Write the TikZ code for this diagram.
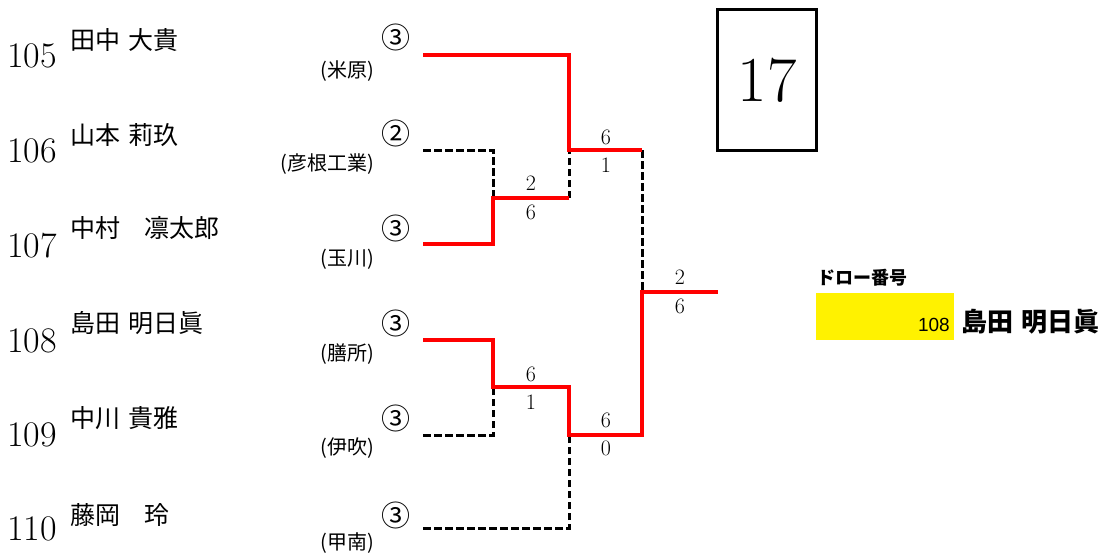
\documentclass[tikz,border=0pt]{standalone}
\usepackage{fontspec}
\newfontfamily\jp{Noto Sans CJK JP}
\newfontfamily\sansf{Liberation Sans}
\begin{document}
\begin{tikzpicture}[x=1pt,y=-1pt,
  win/.style={red, line width=4pt, line join=miter},
  lose/.style={black, line width=3pt, dash pattern=on 7.5pt off 3.5pt},
  seed/.style={anchor=base west, inner sep=0, font=\fontsize{36}{36}\selectfont},
  pname/.style={anchor=west, inner sep=0, font=\jp\fontsize{25}{25}\selectfont},
  club/.style={anchor=east, inner sep=0, font=\jp\fontsize{20}{20}\selectfont},
  circ/.style={inner sep=0, font=\jp\fontsize{29}{29}\selectfont},
  score/.style={inner sep=0, font=\fontsize{22}{22}\selectfont}]
\useasboundingbox (0,0) rectangle (1104,557);

% seeds and names
\node[seed] (s1) at (7,67) {105};
\node[seed] (s2) at (7,162) {106};
\node[seed] (s3) at (7,257) {107};
\node[seed] (s4) at (7,352) {108};
\node[seed] (s5) at (7,446) {109};
\node[seed] (s6) at (7,540) {110};
\node[pname] (n1) at (70,40) {田中\hspace{8pt}大貴};
\node[pname] (n2) at (70,135) {山本\hspace{8pt}莉玖};
\node[pname] (n3) at (70,228) {中村\hspace{24pt}凛太郎};
\node[pname] (n4) at (70,323) {島田\hspace{8pt}明日眞};
\node[pname] (n5) at (70,418) {中川\hspace{8pt}貴雅};
\node[pname] (n6) at (70,515) {藤岡\hspace{24pt}玲};
\node[club] (c1) at (374,71) {(米原)};
\node[club] (c2) at (374,164) {(彦根工業)};
\node[club] (c3) at (374,259) {(玉川)};
\node[club] (c4) at (374,354) {(膳所)};
\node[club] (c5) at (374,448) {(伊吹)};
\node[club] (c6) at (374,543) {(甲南)};
\node[circ] (g1) at (396,37) {③};
\node[circ] (g2) at (396,133) {②};
\node[circ] (g3) at (396,228) {③};
\node[circ] (g4) at (396,323) {③};
\node[circ] (g5) at (396,418) {③};
\node[circ] (g6) at (396,515) {③};

% bracket coordinates
\coordinate (p1) at (423,55);
\coordinate (p2) at (423,150);
\coordinate (p3) at (423,244);
\coordinate (p4) at (423,340);
\coordinate (p5) at (423,435);
\coordinate (p6) at (423,528);
\coordinate (a1) at (569,55);
\coordinate (j1) at (569,150);
\coordinate (f1) at (642,150);
\coordinate (a2) at (493,150);
\coordinate (a3) at (493,244);
\coordinate (j23) at (493,198);
\coordinate (k23) at (569,198);
\coordinate (fm) at (642,292);
\coordinate (fe) at (718,292);
\coordinate (f2) at (642,435);
\coordinate (a4) at (493,340);
\coordinate (j45) at (493,387);
\coordinate (k45) at (569,387);
\coordinate (a5) at (493,435);
\coordinate (j6) at (569,435);
\coordinate (a6) at (569,528);

% losers (dashed)
\draw[lose] (p2) -- (a2) -- (j23);
\draw[lose] (k23) -- (j1);
\draw[lose] (f1) -- (fm);
\draw[lose] (p5) -- (a5) -- (j45);
\draw[lose] (p6) -- (a6) -- (j6);
% winners (red)
\draw[win] (p1) -- (a1) -- (j1) -- (f1);
\draw[win] (p3) -- (a3) -- (j23) -- (k23);
\draw[win] (p4) -- (a4) -- (j45) -- (k45) -- (j6) -- (f2) -- (fm) -- (fe);

% scores
\node[score] (t1) at (606,137) {6};
\node[score] (t2) at (606,165) {1};
\node[score] (t3) at (531,183) {2};
\node[score] (t4) at (531,212) {6};
\node[score] (t5) at (680,277) {2};
\node[score] (t6) at (680,306) {6};
\node[score] (t7) at (531,374) {6};
\node[score] (t8) at (531,402) {1};
\node[score] (t9) at (606,420) {6};
\node[score] (t10) at (606,448) {0};

% round number box
\draw[line width=3pt] (717,9) rectangle (816,150);
\node[inner sep=0, font=\fontsize{64}{64}\selectfont] (box) at (767,80) {17};

% draw number
\node[anchor=west, inner sep=0, font=\jp\bfseries\fontsize{18}{18}\selectfont] (dl) at (817,278) {ドロー番号};
\fill[yellow] (816,293) rectangle (954,340);
\node[anchor=east, inner sep=0, font=\sansf\fontsize{19}{19}\selectfont] (dn) at (950,325) {108};
\node[anchor=west, inner sep=0, font=\jp\bfseries\fontsize{26}{26}\selectfont] (wn) at (961,322) {島田\hspace{8pt}明日眞};
\end{tikzpicture}
\end{document}
